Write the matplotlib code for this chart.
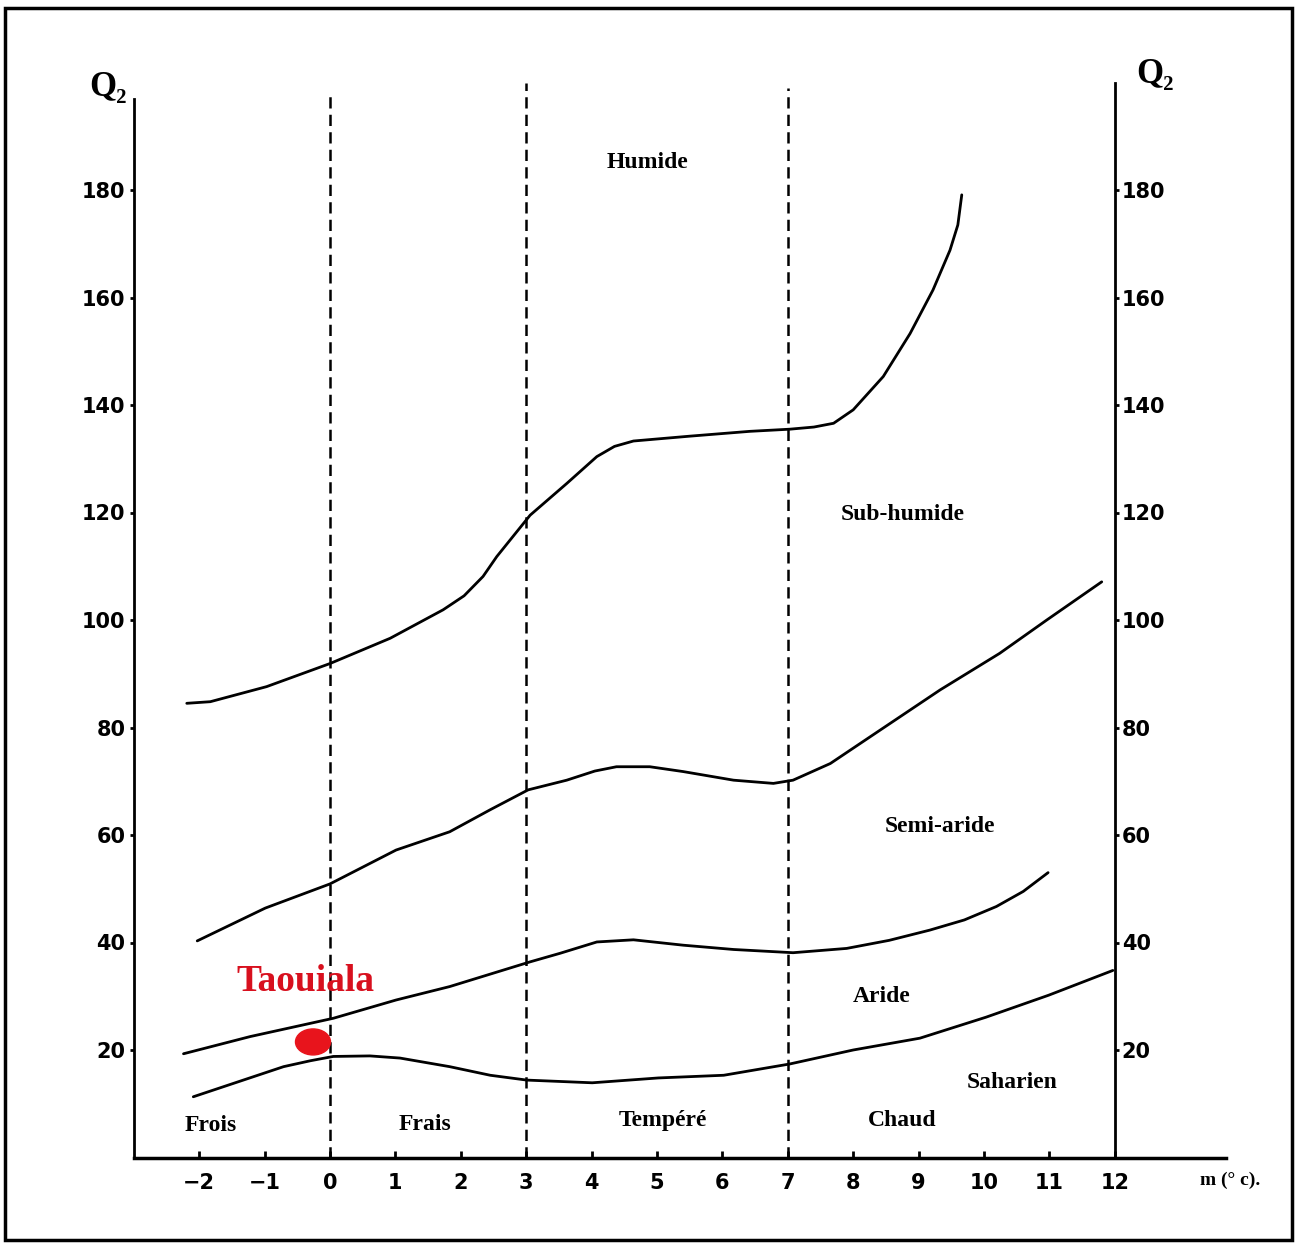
import matplotlib
matplotlib.use("Agg")
import matplotlib.pyplot as plt
from matplotlib.patches import Rectangle, Ellipse

# ---------------- data ----------------
# Humide / Sub-humide boundary
humid_x = [-2.19, -1.83, -0.97, 0.0, 0.92, 1.73, 2.05, 2.34, 2.55, 3.06, 3.62, 4.08, 4.35,
           4.64, 5.50, 6.42, 7.03, 7.40, 7.70, 8.00, 8.46, 8.87, 9.22, 9.48, 9.60, 9.66]
humid_y = [84.5, 84.8, 87.6, 91.9, 96.6, 101.9, 104.5, 108.1, 111.8, 119.5, 125.4, 130.4, 132.3,
           133.3, 134.2, 135.1, 135.5, 135.9, 136.6, 139.1, 145.3, 153.3, 161.4, 168.8, 173.5, 179.1]

# Sub-humide / Semi-aride boundary
subhumid_x = [-2.03, -0.99, 0.0, 1.01, 1.83, 2.45, 3.03, 3.62, 4.05, 4.38, 4.89, 5.40, 6.17,
              6.78, 7.08, 7.65, 8.41, 9.33, 10.24, 10.96, 11.80]
subhumid_y = [40.3, 46.4, 50.9, 57.2, 60.6, 64.7, 68.4, 70.2, 71.9, 72.7, 72.7, 71.8, 70.2,
              69.6, 70.2, 73.3, 79.5, 87.0, 93.8, 100.0, 107.1]

# Semi-aride / Aride boundary
semiarid_x = [-2.24, -1.22, 0.05, 1.01, 1.83, 3.06, 3.52, 4.08, 4.64, 5.40, 6.17, 7.08,
              7.90, 8.55, 9.17, 9.70, 10.19, 10.60, 10.98]
semiarid_y = [19.3, 22.5, 25.9, 29.3, 31.8, 36.4, 38.0, 40.1, 40.5, 39.5, 38.7, 38.1,
              38.9, 40.4, 42.3, 44.2, 46.7, 49.5, 53.0]

# Aride / Saharien boundary
arid_x = [-2.09, -0.71, -0.30, 0.05, 0.61, 1.07, 1.83, 2.45, 3.01, 4.01, 5.02, 6.02, 7.03,
          8.00, 9.02, 10.03, 10.99, 11.97]
arid_y = [11.3, 16.9, 18.0, 18.8, 18.9, 18.5, 16.9, 15.3, 14.4, 13.9, 14.8, 15.3, 17.4,
          20.0, 22.2, 26.1, 30.2, 34.8]

# thermal variant boundaries (m, °C) and the tops of the dashed lines
thermal_bounds = [0, 3, 7]
thermal_tops = [198.2, 200.0, 199.0]

x_ticks = list(range(-2, 13))
y_ticks = [20, 40, 60, 80, 100, 120, 140, 160, 180]

bio_labels = ["Humide", "Sub-humide", "Semi-aride", "Aride", "Saharien"]
bio_pos = [(4.86, 185.2), (8.76, 119.7), (9.33, 61.6), (8.44, 30.0), (10.43, 14.0)]
thermal_labels = ["Frois", "Frais", "Tempéré", "Chaud"]
thermal_pos = [(-1.83, 5.9), (1.45, 6.2), (5.09, 6.9), (8.75, 6.9)]

station_name = "Taouiala"
station_m = -0.26
station_q2 = 21.5

# ---------------- figure ----------------
W, H = 1296, 1243
fig = plt.figure(figsize=(W / 100, H / 100), dpi=100)

x0_px = 330.0
px_per_x = 65.4
y0_px = 1157.5
px_per_y = 5.375
xmin, xmax = -3.0, 13.7
ymin, ymax = 0.0, 200.0
left_px = x0_px + xmin * px_per_x
ax_w = (xmax - xmin) * px_per_x
ax_h = (ymax - ymin) * px_per_y
ax = fig.add_axes([left_px / W, (H - y0_px) / H, ax_w / W, ax_h / H])
ax.set_xlim(xmin, xmax)
ax.set_ylim(ymin, ymax)

tick_font = dict(family="DejaVu Sans", weight="bold", size=15)
serif = ["Liberation Serif", "DejaVu Serif"]

for s in ["top", "right"]:
    ax.spines[s].set_visible(False)
ax.spines["left"].set_bounds(0, 197)
ax.spines["left"].set_linewidth(2)
ax.spines["bottom"].set_linewidth(2.5)

ax.set_xticks(x_ticks)
ax.set_xticklabels([str(v).replace("-", "\u2212") for v in x_ticks], fontdict=tick_font)
ax.tick_params(axis="x", direction="in", length=5, width=2, pad=11)
ax.set_yticks(y_ticks)
ax.set_yticklabels([str(v) for v in y_ticks], fontdict=tick_font)
ax.tick_params(axis="y", direction="out", length=3, width=2, pad=3)

# right-hand Q2 axis at m = 12
ax2 = fig.add_axes([left_px / W, (H - y0_px) / H, (12 - xmin) * px_per_x / W, ax_h / H])
ax2.set_xlim(xmin, 12)
ax2.set_ylim(ymin, ymax)
ax2.patch.set_visible(False)
for s in ["top", "left", "bottom"]:
    ax2.spines[s].set_visible(False)
ax2.spines["right"].set_linewidth(2)
ax2.spines["right"].set_bounds(0, 200)
ax2.set_xticks([])
ax2.yaxis.tick_right()
ax2.set_yticks(y_ticks)
ax2.set_yticklabels([str(v) for v in y_ticks], fontdict=tick_font)
ax2.tick_params(axis="y", direction="out", length=3, width=2, pad=2)

# boundaries
for xs, ys in [(humid_x, humid_y), (subhumid_x, subhumid_y),
               (semiarid_x, semiarid_y), (arid_x, arid_y)]:
    ax.plot(xs, ys, color="black", lw=2.0, solid_capstyle="round", solid_joinstyle="round")

ax.vlines(thermal_bounds, 0, thermal_tops, colors="black", lw=1.8,
          linestyles=[(0, (4.5, 2.5))])

for lab, (x, y) in zip(bio_labels, bio_pos):
    ax.text(x, y, lab, family=serif, weight="bold", size=17, ha="center", va="center")
for lab, (x, y) in zip(thermal_labels, thermal_pos):
    ax.text(x, y, lab, family=serif, weight="bold", size=17, ha="center", va="center")

# Q2 axis titles
ax.text(-3.39, 199.0, "Q\u2082", family=serif, weight="bold", size=25,
        ha="center", va="center", clip_on=False)
ax.text(12.61, 201.4, "Q\u2082", family=serif, weight="bold", size=25,
        ha="center", va="center", clip_on=False)
ax.text(13.76, -4.2, "m (° c).", family=serif, weight="bold", size=14,
        ha="center", va="center", clip_on=False)

# station
ax.add_patch(Ellipse((station_m, station_q2), width=35 / px_per_x, height=26 / px_per_y,
                     color="#e8141c", zorder=5))
ax.text(station_m - 0.12, station_q2 + 11.2, station_name, family=serif, weight="bold",
        size=27, color="#d8101e", ha="center", va="center")

# outer frame
fig.add_artist(Rectangle((5 / W, 3 / H), (1292 - 5) / W, (1240 - 8) / H,
                         transform=fig.transFigure, fill=False, lw=2.5, ec="black"))

fig.savefig("out.png", dpi=100)
